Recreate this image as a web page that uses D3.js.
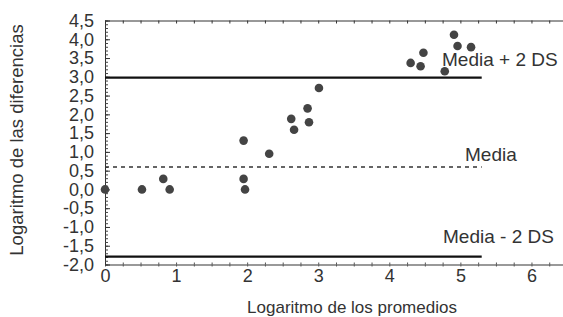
<!DOCTYPE html>
<html>
<head>
<meta charset="utf-8">
<script src="https://cdn.jsdelivr.net/npm/d3@7"></script>
<style>
  body { margin: 0; background: #fff; }
  svg { display: block; font-family: "Liberation Sans", Arial, sans-serif; }
</style>
</head>
<body>
<svg id="svg0"></svg>
<script>
// data
let promedios = [0, 0.52, 0.82, 0.91, 1.95, 1.95, 1.97, 2.31, 2.62, 2.66, 2.85, 2.87, 3.01, 4.30, 4.44, 4.48, 4.78, 4.91, 4.96, 5.15];
let diferencias = [0, 0, 0.28, 0, 1.30, 0.28, 0, 0.95, 1.88, 1.59, 2.16, 1.79, 2.70, 3.37, 3.28, 3.64, 3.15, 4.12, 3.82, 3.79];
let refNames = ['Media + 2 DS', 'Media', 'Media - 2 DS'];
let refValues = [2.98, 0.6, -1.79];
let refEnd = 5.3;
let xTicks = [0, 1, 2, 3, 4, 5, 6];
let yTicks = [-2, -1.5, -1, -0.5, 0, 0.5, 1, 1.5, 2, 2.5, 3, 3.5, 4, 4.5];

let width = 563, height = 317;
let svg = d3.select('#svg0').attr('width', width).attr('height', height);

let xScale = d3.scaleLinear().domain([0, 6.5]).range([105, 567]);
let yScale = d3.scaleLinear().domain([-2, 4.5]).range([264.5, 20.5]);

let fmt = d => d3.format('.1f')(d).replace('.', ',').replace('−', '-');
let textColor = '#333';

// top frame with small ticks
svg.append('g').attr('transform', 'translate(0,' + yScale(4.5) + ')')
    .call(d3.axisBottom(xScale).tickValues(d3.range(0, 6.51, 0.25)).tickSize(3).tickSizeOuter(0).tickFormat(''))
    .call(g => g.select('.domain').attr('stroke', '#333'))
    .call(g => g.selectAll('.tick line').attr('stroke', '#333'));

// bottom axis: minor ticks crossing the line
svg.append('g').attr('transform', 'translate(0,' + yScale(-2) + ')')
    .call(d3.axisBottom(xScale).tickValues(d3.range(0, 6.51, 0.25)).tickSize(2).tickSizeOuter(0).tickFormat(''))
    .call(g => g.select('.domain').attr('stroke', '#777').attr('stroke-width', 1.5))
    .call(g => g.selectAll('.tick line').attr('stroke', '#555'));
svg.append('g').attr('transform', 'translate(0,' + yScale(-2) + ')')
    .call(d3.axisTop(xScale).tickValues(d3.range(0, 6.51, 0.25)).tickSize(2).tickSizeOuter(0).tickFormat(''))
    .call(g => g.select('.domain').remove())
    .call(g => g.selectAll('.tick line').attr('stroke', '#555'));

// x labels
svg.append('g').attr('transform', 'translate(0,' + yScale(-2) + ')')
    .call(d3.axisBottom(xScale).tickValues(xTicks).tickSize(0).tickPadding(5).tickFormat(d3.format('d')))
    .call(g => g.select('.domain').remove())
    .call(g => g.selectAll('text').attr('fill', textColor).style('font-size', '18px').style('font-family', 'Liberation Sans, Arial, sans-serif'));

// left axis: minor ticks inside, labels outside
svg.append('g').attr('transform', 'translate(' + xScale(0) + ',0)')
    .call(d3.axisRight(yScale).tickValues(d3.range(-2, 4.5001, 0.1)).tickSize(3).tickSizeOuter(0).tickFormat(''))
    .call(g => g.select('.domain').attr('stroke', '#333'))
    .call(g => g.selectAll('.tick line').attr('stroke', '#444'));
svg.append('g').attr('transform', 'translate(' + xScale(0) + ',0)')
    .call(d3.axisRight(yScale).tickValues(yTicks).tickSize(5).tickFormat(''))
    .call(g => g.select('.domain').remove())
    .call(g => g.selectAll('.tick line').attr('stroke', '#333'));
svg.append('g').attr('transform', 'translate(' + xScale(0) + ',0)')
    .call(d3.axisLeft(yScale).tickValues(yTicks).tickSize(0).tickPadding(11).tickFormat(fmt))
    .call(g => g.select('.domain').remove())
    .call(g => g.selectAll('text').attr('fill', textColor).style('font-size', '18px').style('font-family', 'Liberation Sans, Arial, sans-serif'));

// reference lines
svg.selectAll('.ref').data(refValues).enter().append('line')
    .attr('class', 'ref')
    .attr('x1', xScale(0)).attr('x2', xScale(refEnd))
    .attr('y1', d => yScale(d)).attr('y2', d => yScale(d))
    .attr('stroke', (d, i) => i == 1 ? '#333' : '#111')
    .attr('stroke-width', (d, i) => i == 1 ? 1.5 : 2.2)
    .attr('stroke-dasharray', (d, i) => i == 1 ? '4,4' : null);

// points
svg.selectAll('circle').data(promedios).enter().append('circle')
    .attr('cx', d => xScale(d))
    .attr('cy', (d, i) => yScale(diferencias[i]))
    .attr('r', 4.3)
    .attr('fill', '#444');

// reference labels
let labelX = [442, 465, 443];
let labelY = [66, 161, 243];
svg.selectAll('.rlabel').data(refNames).enter().append('text')
    .attr('class', 'rlabel')
    .attr('x', (d, i) => labelX[i])
    .attr('y', (d, i) => labelY[i])
    .text(d => d)
    .style('font-size', '19px').style('fill', textColor);

// titles
svg.append('text')
    .attr('x', 352).attr('y', 313)
    .text('Logaritmo de los promedios')
    .style('font-size', '17px').style('fill', textColor).style('text-anchor', 'middle');

svg.append('text')
    .attr('transform', 'translate(23,140) rotate(-90)')
    .text('Logaritmo de las diferencias')
    .style('font-size', '18.5px').style('fill', textColor).style('text-anchor', 'middle');
</script>
</body>
</html>
